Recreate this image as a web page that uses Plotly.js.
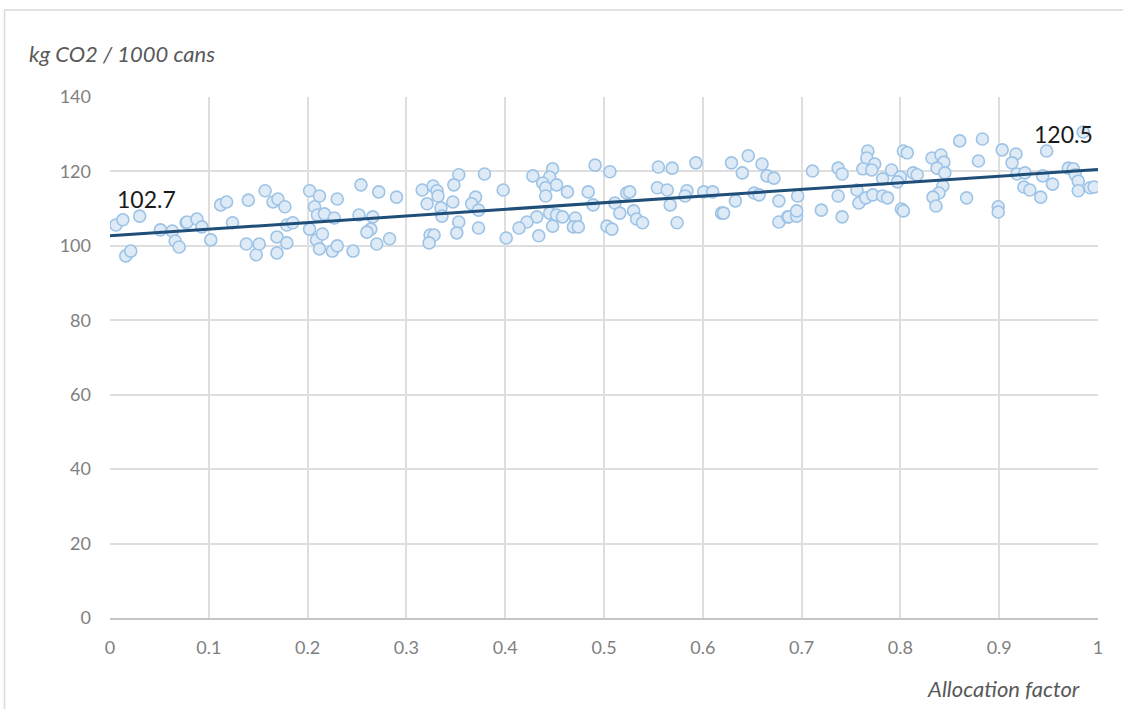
<!DOCTYPE html>
<html>
<head>
<meta charset="utf-8">
<script src="https://cdn.plot.ly/plotly-3.0.1.min.js"></script>
<style>
html,body{margin:0;padding:0;background:#fff;}
#chart{width:1123px;height:709px;}
</style>
</head>
<body>
<div id="chart"></div>
<script>
const allocX = [0.006,0.013,0.016,0.021,0.030,0.051,0.063,0.066,0.070,0.077,0.078,0.088,0.093,0.102,0.112,0.118,0.124,0.138,0.140,0.148,0.151,0.157,0.165,0.169,0.169,0.170,0.177,0.179,0.179,0.185,0.202,0.212,0.230,0.207,0.210,0.217,0.227,0.202,0.209,0.215,0.212,0.225,0.230,0.246,0.254,0.272,0.290,0.252,0.266,0.264,0.260,0.270,0.283,0.316,0.327,0.331,0.332,0.321,0.335,0.336,0.324,0.328,0.323,0.353,0.348,0.379,0.398,0.347,0.370,0.366,0.373,0.353,0.351,0.373,0.401,0.428,0.448,0.445,0.438,0.441,0.452,0.463,0.441,0.445,0.452,0.458,0.471,0.469,0.474,0.448,0.432,0.422,0.414,0.434,0.484,0.491,0.506,0.489,0.511,0.516,0.503,0.508,0.523,0.526,0.530,0.533,0.539,0.555,0.569,0.554,0.564,0.567,0.584,0.582,0.574,0.593,0.601,0.610,0.619,0.621,0.629,0.640,0.646,0.660,0.665,0.672,0.652,0.657,0.633,0.677,0.677,0.686,0.696,0.687,0.695,0.695,0.711,0.720,0.737,0.741,0.737,0.741,0.767,0.766,0.774,0.762,0.771,0.756,0.758,0.765,0.772,0.782,0.791,0.800,0.797,0.782,0.787,0.803,0.807,0.813,0.817,0.801,0.803,0.832,0.841,0.844,0.837,0.845,0.843,0.839,0.833,0.836,0.860,0.883,0.879,0.867,0.903,0.917,0.913,0.918,0.926,0.925,0.931,0.942,0.948,0.944,0.954,0.899,0.899,0.970,0.975,0.977,0.980,0.980,0.992,0.996,0.985];
const co2Values = [105.6,107.0,97.3,98.6,108.0,104.3,104.0,101.3,99.7,106.2,106.4,107.2,105.1,101.6,111.0,111.8,106.2,100.5,112.3,97.6,100.5,114.8,111.8,102.4,98.1,112.6,110.5,105.6,100.8,106.2,114.8,113.4,112.6,110.5,108.3,108.6,107.5,104.5,101.6,103.2,99.2,98.6,100.0,98.6,116.4,114.5,113.1,108.3,107.8,104.5,103.7,100.5,101.9,115.0,116.1,114.8,113.4,111.3,110.2,108.0,102.9,102.9,100.8,119.1,116.4,119.3,115.0,111.8,113.1,111.3,109.6,106.4,103.5,104.8,102.1,118.8,120.7,118.5,116.9,115.6,116.4,114.5,113.4,108.8,108.3,107.8,107.5,105.1,105.1,105.3,107.8,106.4,104.8,102.7,114.5,121.7,119.9,111.0,111.5,108.8,105.3,104.5,114.2,114.5,109.4,107.2,106.2,121.2,120.9,115.6,115.0,111.0,114.8,113.4,106.2,122.3,114.5,114.5,108.8,108.8,122.3,119.6,124.2,122.0,118.8,118.2,114.2,113.7,112.1,112.1,106.4,107.8,113.4,107.8,108.0,109.4,120.1,109.6,120.9,119.3,113.4,107.8,125.5,123.6,122.0,120.7,120.4,115.0,111.5,112.9,113.7,118.0,120.4,118.5,117.2,113.4,112.9,125.5,125.0,119.6,119.1,109.9,109.4,123.6,124.4,122.5,120.9,119.6,116.1,114.2,113.1,110.7,128.2,128.7,122.8,112.9,125.8,124.7,122.3,119.3,119.6,115.8,115.0,113.1,125.5,118.8,116.6,110.5,109.1,120.9,120.7,119.1,117.4,114.8,115.6,115.8,130.6];
const trendX = [0, 1];
const trendY = [102.7, 120.5];
const trendLabels = ["102.7", "120.5"];
const xTickVals = [0,0.1,0.2,0.3,0.4,0.5,0.6,0.7,0.8,0.9,1];
const xTickText = ["0","0.1","0.2","0.3","0.4","0.5","0.6","0.7","0.8","0.9","1"];
const yTickVals = [0,20,40,60,80,100,120,140];
const yAxisLabel = "kg CO2 / 1000 cans";
const xAxisLabel = "Allocation factor";

const FONT = "Lato, 'Open Sans', sans-serif";

const traces = [
  {
    type: "scatter", mode: "markers", x: allocX, y: co2Values,
    marker: {size: 12, color: "#deebf7", line: {color: "#9dc3e6", width: 1.6}},
    hoverinfo: "x+y", showlegend: false
  },
  {
    type: "scatter", mode: "lines", x: trendX, y: trendY,
    line: {color: "#1f4e79", width: 3}, hoverinfo: "skip", showlegend: false
  }
];

const layout = {
  width: 1123, height: 709,
  margin: {l: 110, r: 25, t: 97, b: 91},
  paper_bgcolor: "#ffffff", plot_bgcolor: "#ffffff",
  font: {family: FONT, color: "#808080", size: 18},
  showlegend: false,
  xaxis: {
    range: [0, 1], tickvals: xTickVals, ticktext: xTickText,
    showgrid: true, gridcolor: "#dedede", gridwidth: 2,
    zeroline: false, showline: true, linecolor: "#c4c4c4", linewidth: 2,
    ticks: "", ticklabelstandoff: 12, tickfont: {size: 18, color: "#808080", family: FONT}
  },
  yaxis: {
    range: [0, 140], tickvals: yTickVals,
    showgrid: true, gridcolor: "#dedede", gridwidth: 2,
    zeroline: false, showline: false,
    ticks: "", ticklabelstandoff: 18, tickfont: {size: 18, color: "#808080", family: FONT}
  },
  shapes: [
    {type: "line", xref: "paper", yref: "paper",
     x0: (4.5 - 110) / 988, x1: (4.5 - 110) / 988, y0: (618 - 10) / 521, y1: -0.3,
     line: {color: "#d9d9d9", width: 1.5}},
    {type: "line", xref: "paper", yref: "paper",
     x0: (4.5 - 110) / 988, x1: 1.1, y0: (618 - 10) / 521, y1: (618 - 10) / 521,
     line: {color: "#d9d9d9", width: 1.5}}
  ],
  annotations: [
    {text: trendLabels[0], x: trendX[0] + 0.005, y: 112.6, xref: "x", yref: "y",
     xanchor: "left", yanchor: "middle", showarrow: false,
     font: {size: 23, color: "#1a1a1a", family: FONT}},
    {text: trendLabels[1], x: trendX[1] - 0.003, y: 130.0, xref: "x", yref: "y",
     xanchor: "right", yanchor: "middle", showarrow: false,
     font: {size: 23, color: "#1a1a1a", family: FONT}},
    {text: yAxisLabel, xref: "paper", yref: "paper",
     x: (27 - 110) / 988, y: (618 - 53) / 521, xanchor: "left", yanchor: "middle",
     showarrow: false, font: {size: 22, color: "#595959", family: FONT, style: "italic"}},
    {text: xAxisLabel, xref: "paper", yref: "paper",
     x: (1082 - 110) / 988, y: (618 - 688) / 521, xanchor: "right", yanchor: "middle",
     showarrow: false, font: {size: 22, color: "#595959", family: FONT, style: "italic"}}
  ]
};

Plotly.newPlot("chart", traces, layout, {displayModeBar: false, staticPlot: true});
</script>
</body>
</html>
